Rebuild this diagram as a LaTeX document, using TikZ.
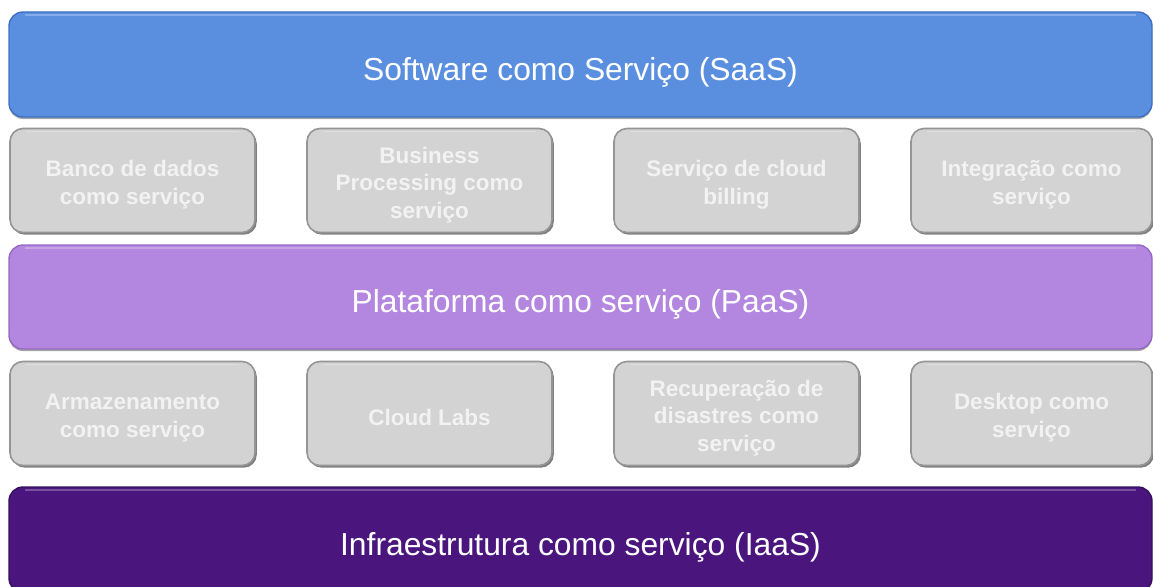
\documentclass[tikz,border=0pt]{standalone}
\usepackage{fontspec}
\setmainfont{Liberation Sans}
\usetikzlibrary{shadows}
\definecolor{saasblue}{HTML}{5A8FE0}
\definecolor{saasedge}{HTML}{3F6FC2}
\definecolor{paaslilac}{HTML}{B386DF}
\definecolor{paasedge}{HTML}{9568C4}
\definecolor{iaasviolet}{HTML}{4A167E}
\definecolor{iaasedge}{HTML}{35105E}
\definecolor{boxgray}{HTML}{D3D3D3}
\definecolor{boxedge}{HTML}{959595}
\definecolor{boxtext}{HTML}{F2F2F2}
% invisible strut that lowers the text block inside a box
\newcommand{\svclift}{\rule{0pt}{25pt}}
\tikzset{
  gloss/.style={path picture={
    \draw[white, opacity=0.25, line width=1.6pt]
      ([xshift=16pt,yshift=-3pt]path picture bounding box.north west) --
      ([xshift=-16pt,yshift=-3pt]path picture bounding box.north east);}},
  layer/.style={rounded corners=14pt, minimum width=1143pt, line width=1.4pt,
    text=white, font=\fontsize{31.8}{36}\selectfont, inner sep=0pt,
    text height=37pt, text depth=6pt, gloss,
    drop shadow={shadow xshift=0pt, shadow yshift=-2pt, opacity=0.35, fill=black}},
  svc/.style={rounded corners=13pt, fill=boxgray, draw=boxedge, line width=1.6pt,
    minimum width=245pt, minimum height=104pt, inner sep=0pt, text=boxtext,
    font=\bfseries\fontsize{22.5}{27.5}\selectfont, align=center, gloss,
    drop shadow={shadow xshift=1.8pt, shadow yshift=-2.2pt, opacity=0.5, fill=black}},
}
\begin{document}
\begin{tikzpicture}[x=1pt,y=-1pt]
\useasboundingbox (0,0) rectangle (1153,586);
\clip (0,0) rectangle (1153,586);
\fill[white] (0,0) rectangle (1153,586);

% service layers
\node[layer, fill=saasblue, draw=saasedge, minimum height=105pt] (saas) at (580.5,64.5)
  {Software como Serviço (SaaS)};
\node[layer, fill=paaslilac, draw=paasedge, minimum height=104pt] (paas) at (580.5,297)
  {Plataforma como serviço (PaaS)};
\node[layer, fill=iaasviolet, draw=iaasedge, minimum height=105pt] (iaas) at (580.5,539.5)
  {Infraestrutura como serviço (IaaS)};

% offerings between SaaS and PaaS
\node[svc] (db)   at (132.5,180.5) {\svclift Banco de dados\\como serviço};
\node[svc] (bp)   at (429.5,180.5) {\svclift Business\\Processing como\\serviço};
\node[svc] (bill) at (736.5,180.5) {\svclift Serviço de cloud\\billing};
\node[svc, minimum width=241pt] (integ) at (1031.5,180.5) {\svclift Integração como\\serviço};

% offerings between PaaS and IaaS
\node[svc] (store) at (132.5,413.5) {\svclift Armazenamento\\como serviço};
\node[svc] (labs)  at (429.5,413.5) {\svclift Cloud Labs};
\node[svc] (dr)    at (736.5,413.5) {\svclift Recuperação de\\disastres como\\serviço};
\node[svc, minimum width=241pt] (desk) at (1031.5,413.5) {\svclift Desktop como\\serviço};
\end{tikzpicture}
\end{document}
